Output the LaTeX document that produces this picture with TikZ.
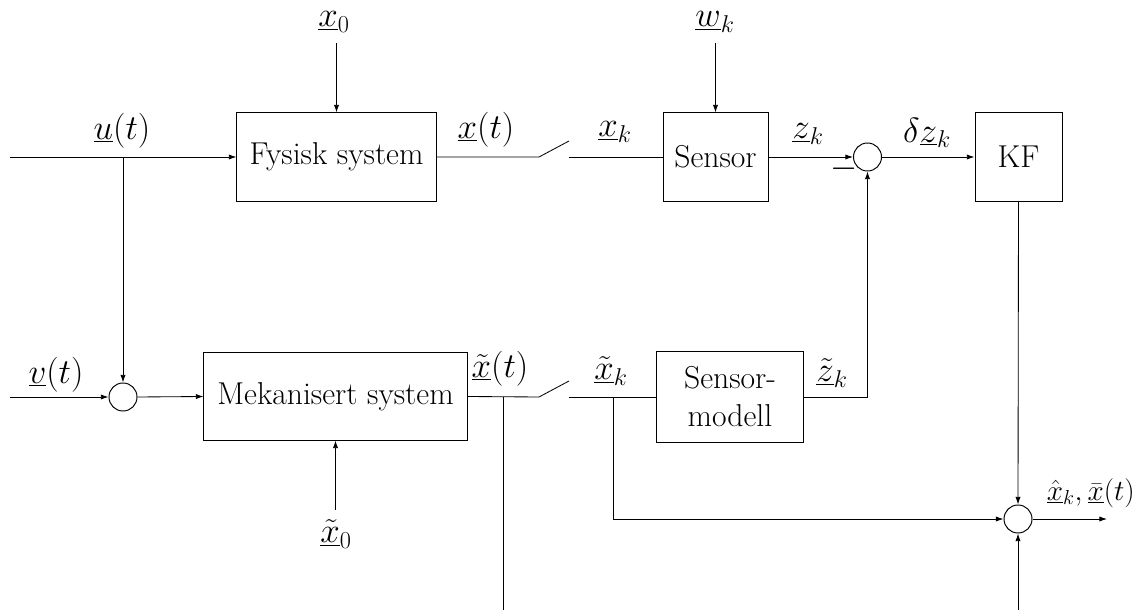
\documentclass[tikz,border=0pt]{standalone}
\usetikzlibrary{arrows.meta}
\tikzset{
  blk/.style={draw, line width=0.7pt, inner sep=0pt, align=center,
    font=\fontsize{22.5}{27}\selectfont},
  sumc/.style={draw, line width=0.7pt, circle, minimum size=0.7cm, inner sep=0pt},
  lbl/.style={inner sep=0pt, font=\fontsize{24}{28}\selectfont},
  arr/.style={line width=0.6pt, -{Latex[length=0.19cm,width=0.13cm]}},
  wire/.style={line width=0.6pt},
}
\begin{document}
\begin{tikzpicture}[x=0.025cm, y=-0.025cm]
\path[use as bounding box] (0,0) rectangle (1139,610);

% blocks
\node[blk, minimum width=4.975cm, minimum height=2.2cm] (fys) at (336.5,157) {Fysisk system};
\node[blk, minimum width=2.625cm, minimum height=2.2cm] (sens) at (715.5,157) {Sensor};
\node[blk, minimum width=2.175cm, minimum height=2.2cm] (kf) at (1018.5,157) {KF};
\node[blk, minimum width=6.575cm, minimum height=2.175cm] (meka) at (335.5,396.5) {Mekanisert system};
\node[blk, minimum width=3.65cm, minimum height=2.25cm] (smod) at (730,397) {Sensor-\\modell};

% summing junctions
\node[sumc] (s1) at (867.5,157) {};
\node[sumc] (s2) at (123,397) {};
\node[sumc] (s3) at (1018,519) {};

% free ends and branch points
\coordinate (uin) at (10,157);
\coordinate (ubr) at (123,157);
\coordinate (x0a) at (336.5,43);
\coordinate (wka) at (715.5,43);
\coordinate (sw1a) at (539,157);
\coordinate (sw1b) at (569,141);
\coordinate (sw1c) at (569,157);
\coordinate (vin) at (10,397);
\coordinate (xt0a) at (335.5,510);
\coordinate (sw2a) at (539,397);
\coordinate (sw2b) at (569,381);
\coordinate (sw2c) at (569,397);
\coordinate (br1) at (503,397);
\coordinate (br1e) at (503,610);
\coordinate (br2) at (613,397);
\coordinate (br2c) at (613,519);
\coordinate (outr) at (1107,519);
\coordinate (s3in) at (1018,610);

% upper path
\draw[arr] (uin) -- (fys.west);
\draw[arr] (ubr) -- (s2.north);
\draw[arr] (x0a) -- (fys.north);
\draw[wire] (fys.east) -- (sw1a) -- (sw1b);
\draw[wire] (sw1c) -- (sens.west);
\draw[arr] (wka) -- (sens.north);
\draw[arr] (sens.east) -- (s1.west);
\draw[arr] (s1.east) -- (kf.west);
\draw[arr] (kf.south) -- (s3.north);

% lower path
\draw[arr] (vin) -- (s2.west);
\draw[arr] (s2.east) -- (meka.west);
\draw[arr] (xt0a) -- (meka.south);
\draw[wire] (meka.east) -- (sw2a) -- (sw2b);
\draw[wire] (sw2c) -- (smod.west);
\draw[wire] (br1) -- (br1e);
\draw[arr] (br2) -- (br2c) -- (s3.west);
\draw[arr] (smod.east) -| (s1.south);
\draw[arr] (s3.east) -- (outr);
\draw[arr] (s3in) -- (s3.south);

% signal labels
\node[lbl] (lu) at (122,131) {$\underline{u}(t)$};
\node[lbl] (lx0) at (334,22) {$\underline{x}_0$};
\node[lbl] (lxt) at (486,130) {$\underline{x}(t)$};
\node[lbl] (lxk) at (615,132) {$\underline{x}_k$};
\node[lbl] (lwk) at (715,22) {$\underline{w}_k$};
\node[lbl] (lzk) at (808,134) {$\underline{z}_k$};
\node[lbl] (ldz) at (927,133) {$\delta\underline{z}_k$};
\node[lbl] (lmin) at (844,169) {$-$};
\node[lbl] (lv) at (56,375) {$\underline{v}(t)$};
\node[lbl] (lxtt) at (500,369) {$\underline{\tilde{x}}(t)$};
\node[lbl] (lxtk) at (611,371) {$\underline{\tilde{x}}_k$};
\node[lbl] (lztk) at (832,373) {$\underline{\tilde{z}}_k$};
\node[lbl] (lxt0) at (336,534) {$\underline{\tilde{x}}_0$};
\node[lbl, anchor=east, font=\fontsize{22}{26}\selectfont] (lout) at (1135,493)
  {$\underline{\hat{x}}_k, \underline{\bar{x}}(t)$};
\end{tikzpicture}
\end{document}
